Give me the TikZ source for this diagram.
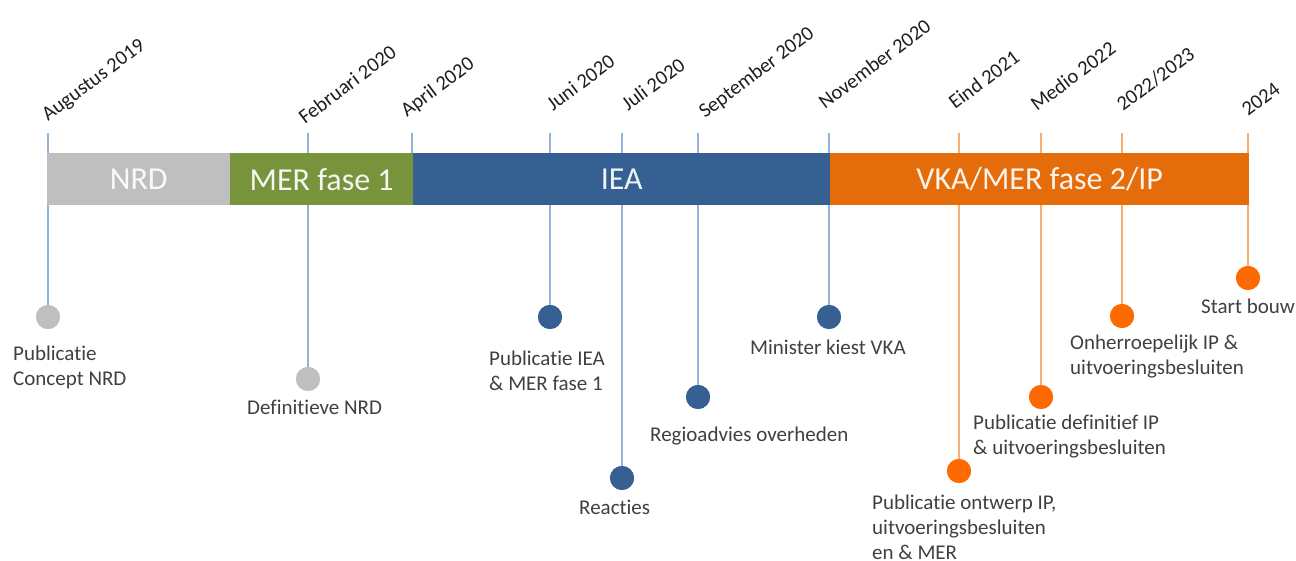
\documentclass[tikz,border=0pt]{standalone}
\usepackage{fontspec}
\setmainfont{Carlito}[Ligatures=NoCommon]
\definecolor{nrdgray}{HTML}{BFBFBF}
\definecolor{mergreen}{HTML}{77933C}
\definecolor{ieablue}{HTML}{366092}
\definecolor{vkaorange}{HTML}{E46C0A}
\definecolor{dotorange}{HTML}{FF6A00}
\definecolor{tickblue}{HTML}{95B3D7}
\definecolor{tickorange}{HTML}{F9AE78}
\definecolor{textgray}{HTML}{404040}
\begin{document}
\begin{tikzpicture}[x=1pt,y=-1pt,
  seg/.style={rectangle, inner sep=0pt, minimum height=52pt, anchor=north west,
    text=white, text opacity=0.92, font=\fontsize{32}{38}\selectfont},
  datelbl/.style={rotate=37, anchor=base west, inner sep=0pt, text=black!88,
    font=\fontsize{20.5}{24}\selectfont},
  dot/.style={circle, inner sep=0pt, minimum size=24pt},
  evt/.style={anchor=north west, inner sep=0pt, align=left, text=textgray,
    font=\fontsize{21}{25}\selectfont},
  tickb/.style={draw=tickblue, line width=1.2pt},
  ticko/.style={draw=tickorange, line width=1.2pt}]

\useasboundingbox (0,0) rectangle (1296,561);
\clip (0,0) rectangle (1296,561);
\fill[white] (0,0) rectangle (1296,561);

% tick tops
\foreach \n/\x in {aug/48, feb/308, apr/412, jun/550, jul/622, sep/698,
                   nov/829, eind/959, medio/1041, tt/1122, y24/1248}
  \coordinate (t\n) at (\x,133);
\coordinate (bapr) at (412,153);

% milestone dots
\node[dot, fill=nrdgray] (daug) at (48,317) {};
\node[dot, fill=nrdgray] (dfeb) at (308,379) {};
\node[dot, fill=ieablue] (djun) at (550,317) {};
\node[dot, fill=ieablue] (djul) at (622,478) {};
\node[dot, fill=ieablue] (dsep) at (698,397) {};
\node[dot, fill=ieablue] (dnov) at (829,317) {};
\node[dot, fill=dotorange] (deind) at (959,471) {};
\node[dot, fill=dotorange] (dmedio) at (1041,397) {};
\node[dot, fill=dotorange] (dtt) at (1122,316) {};
\node[dot, fill=dotorange] (dy24) at (1248,278) {};

% tick lines
\draw[tickb] (taug) -- (daug);
\draw[tickb] (tfeb) -- (dfeb);
\draw[tickb] (tapr) -- (bapr);
\draw[tickb] (tjun) -- (djun);
\draw[tickb] (tjul) -- (djul);
\draw[tickb] (tsep) -- (dsep);
\draw[tickb] (tnov) -- (dnov);
\draw[ticko] (teind) -- (deind);
\draw[ticko] (tmedio) -- (dmedio);
\draw[ticko] (ttt) -- (dtt);
\draw[ticko] (ty24) -- (dy24);

% redraw dots over the lines
\foreach \d/\c in {daug/nrdgray, dfeb/nrdgray, djun/ieablue, djul/ieablue,
                   dsep/ieablue, dnov/ieablue, deind/dotorange, dmedio/dotorange,
                   dtt/dotorange, dy24/dotorange}
  \fill[\c] (\d) circle (12pt);

% phase bar
\node[seg, fill=nrdgray, minimum width=183pt] (nrd) at (47,153) {NRD};
\node[seg, fill=mergreen, minimum width=183pt] (mer) at (230,153) {MER fase 1};
\node[seg, fill=ieablue, minimum width=417pt] (iea) at (413,153) {IEA};
\node[seg, fill=vkaorange, minimum width=419pt] (vka) at (830,153) {VKA/MER fase 2/IP};

% dates
\node[datelbl] (laug) at (48,122) {Augustus 2019};
\node[datelbl] (lfeb) at (305,125) {Februari 2020};
\node[datelbl] (lapr) at (407,118) {April 2020};
\node[datelbl] (ljun) at (553,112) {Juni 2020};
\node[datelbl] (ljul) at (628,112) {Juli 2020};
\node[datelbl] (lsep) at (705,119) {September 2020};
\node[datelbl] (lnov) at (825,110) {November 2020};
\node[datelbl] (leind) at (955,110) {Eind 2021};
\node[datelbl] (lmedio) at (1037,112) {Medio 2022};
\node[datelbl] (ltt) at (1123,112) {2022/2023};
\node[datelbl] (ly24) at (1248,117) {2024};

% milestone texts
\node[evt] (eaug) at (13,346) {Publicatie\\Concept NRD};
\node[evt] (efeb) at (247,400) {Definitieve NRD};
\node[evt] (ejun) at (489,351) {Publicatie IEA\\\& MER fase 1};
\node[evt] (ejul) at (579,500) {Reacties};
\node[evt] (esep) at (650,427) {Regioadvies overheden};
\node[evt] (enov) at (750,340) {Minister kiest VKA};
\node[evt] (eeind) at (872,495) {Publicatie ontwerp IP,\\uitvoeringsbesluiten\\en \& MER};
\node[evt] (emedio) at (973,415) {Publicatie definitief IP\\\& uitvoeringsbesluiten};
\node[evt] (ett) at (1070,335) {Onherroepelijk IP \&\\uitvoeringsbesluiten};
\node[evt] (ey24) at (1201,299) {Start bouw};
\end{tikzpicture}
\end{document}
